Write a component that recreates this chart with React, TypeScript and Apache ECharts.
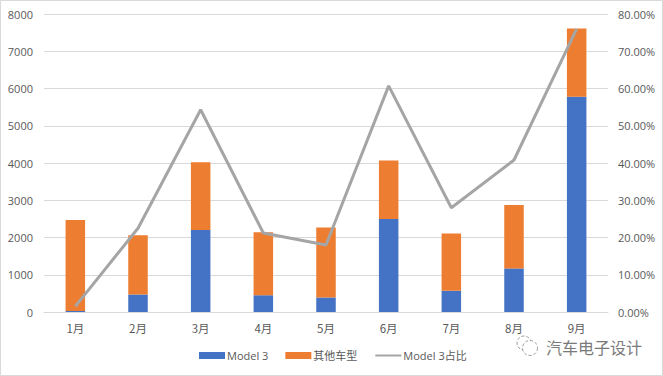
import React, { useEffect, useRef } from "react";
import * as echarts from "echarts";

const months = ["1月", "2月", "3月", "4月", "5月", "6月", "7月", "8月", "9月"];
const model3 = [30, 470, 2200, 450, 390, 2500, 570, 1170, 5780];
const others = [2440, 1590, 1820, 1690, 1880, 1570, 1540, 1700, 1830];
const share = [1.5, 22.5, 54.3, 21.2, 18.0, 60.7, 28.0, 40.8, 76.0];
const FONT = "'Open Sans', 'Noto Sans CJK SC', sans-serif";
const CJK = "'Noto Sans CJK SC', sans-serif";
const TXT = "#595959";

export default function App() {
  const ref = useRef<HTMLDivElement>(null);
  useEffect(() => {
    document.body.style.margin = "0";
    const chart = echarts.init(ref.current!, null, { renderer: "svg" });
    chart.setOption({
      animation: false,
      backgroundColor: "#fff",
      textStyle: { fontFamily: FONT },
      grid: { left: 44, right: 55, top: 14, bottom: 64, containLabel: false },
      legend: {
        top: 350,
        left: 199,
        padding: 0,
        itemWidth: 26,
        itemHeight: 7,
        itemGap: 17,
        textStyle: { color: TXT, fontSize: 11, fontFamily: FONT, padding: [0, 0, 0, -3] },
        data: [
          { name: "Model 3", icon: "rect" },
          { name: "其他车型", icon: "rect" },
          { name: "Model 3占比", itemStyle: { opacity: 0 } },
        ],
      },
      xAxis: {
        type: "category",
        data: months,
        axisLine: { lineStyle: { color: "#d9d9d9" } },
        axisTick: { show: false },
        axisLabel: { color: TXT, fontSize: 11.5, fontFamily: CJK, margin: 10 },
      },
      yAxis: [
        {
          type: "value",
          min: 0,
          max: 8000,
          interval: 1000,
          axisLine: { show: false },
          axisTick: { show: false },
          axisLabel: { color: TXT, fontSize: 11, margin: 11, formatter: (v: number) => String(v) },
          splitLine: { lineStyle: { color: "#d9d9d9" } },
        },
        {
          type: "value",
          min: 0,
          max: 80,
          interval: 10,
          axisLine: { show: false },
          axisTick: { show: false },
          axisLabel: { color: TXT, fontSize: 11, margin: 10, formatter: (v: number) => v.toFixed(2) + "%" },
          splitLine: { show: false },
        },
      ],
      series: [
        { name: "Model 3", type: "bar", stack: "t", barWidth: 19.5, data: model3, itemStyle: { color: "#4472c4" } },
        { name: "其他车型", type: "bar", stack: "t", barWidth: 19.5, data: others, itemStyle: { color: "#ed7d31" } },
        {
          name: "Model 3占比",
          type: "line",
          yAxisIndex: 1,
          data: share,
          symbol: "none",
          itemStyle: { color: "#a5a5a5" },
          lineStyle: { color: "#a5a5a5", width: 3 },
        },
      ],
      graphic: [
        {
          type: "rect",
          silent: true,
          shape: { x: 0.5, y: 0.5, width: 662, height: 375 },
          style: { fill: "none", stroke: "#d9d9d9", lineWidth: 1 },
        },
        {
          type: "text",
          x: 546,
          y: 338,
          silent: true,
          style: { text: "汽车电子设计", fill: "#7a7a7a", fontSize: 16, lineHeight: 17, fontFamily: CJK },
        },
        {
          type: "circle",
          silent: true,
          shape: { cx: 524, cy: 343, r: 7 },
          style: { fill: "none", stroke: "#9a9a9a", lineWidth: 1, lineDash: [3, 2] },
        },
        {
          type: "circle",
          silent: true,
          shape: { cx: 530, cy: 348, r: 7.5 },
          style: { fill: "#fff", stroke: "#9a9a9a", lineWidth: 1, lineDash: [3, 2] },
        },
      ],
    });
    return () => chart.dispose();
  }, []);
  return <div ref={ref} style={{ width: 663, height: 376 }} />;
}
